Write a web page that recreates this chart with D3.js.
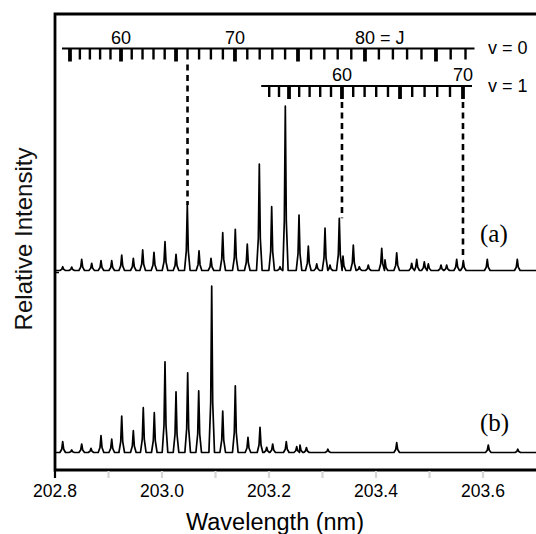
<!DOCTYPE html>
<html>
<head>
<meta charset="utf-8">
<script src="https://cdnjs.cloudflare.com/ajax/libs/d3/7.8.5/d3.min.js"></script>
<style>
  body { margin: 0; background: #fff; }
  svg { display: block; }
</style>
</head>
<body>
<div id="svg-container"></div>
<script>
const width = 536;
const height = 534;

// ********* DATA *********
// wavelength axis (nm)
const xDomain = [202.8, 203.7];
const majorTicks = [202.8, 203.0, 203.2, 203.4, 203.6];
const minorTicks = [202.9, 203.1, 203.3, 203.5];

// rotational comb, v = 0 : [J, wavelength]
const combV0 = [
  [55, 202.8280], [56, 202.8465], [57, 202.8652], [58, 202.8843], [59, 202.9037],
  [60, 202.9234], [61, 202.9434], [62, 202.9636], [63, 202.9841], [64, 203.0050],
  [65, 203.0262], [66, 203.0477], [67, 203.0693], [68, 203.0914], [69, 203.1138],
  [70, 203.1364], [71, 203.1594], [72, 203.1826], [73, 203.2062], [74, 203.2301],
  [75, 203.2542], [76, 203.2787], [77, 203.3034], [78, 203.3284], [79, 203.3538],
  [80, 203.3794], [81, 203.4054], [82, 203.4316], [83, 203.4581], [84, 203.4850],
  [85, 203.5121], [86, 203.5396], [87, 203.5673]
];
// rotational comb, v = 1 : [J, wavelength]
const combV1 = [
  [53, 203.2004], [54, 203.2187], [55, 203.2374], [56, 203.2564], [57, 203.2759],
  [58, 203.2957], [59, 203.3159], [60, 203.3364], [61, 203.3574], [62, 203.3787],
  [63, 203.4004], [64, 203.4224], [65, 203.4449], [66, 203.4677], [67, 203.4908],
  [68, 203.5144], [69, 203.5383], [70, 203.5626]
];
const labelsV0 = [[60, "60"], [70, "70"], [80, "80 = J"]];
const labelsV1 = [[60, "60"], [70, "70"]];
// dashed guides: [v, J, intensity reached in spectrum (a)]
const guides = [[0, 66, 0.398], [1, 60, 0.317], [1, 70, 0.094]];

// spectrum (a) peaks: [wavelength, relative intensity]
const peaksA = [
  [202.8144, 0.023], [202.8312, 0.021], [202.8499, 0.068], [202.8686, 0.044],
  [202.8860, 0.060], [202.9060, 0.060], [202.9247, 0.094], [202.9464, 0.074],
  [202.9639, 0.125], [202.9850, 0.111], [203.0056, 0.175], [203.0262, 0.098],
  [203.0473, 0.398], [203.0692, 0.119], [203.0916, 0.074], [203.1135, 0.230],
  [203.1370, 0.250], [203.1594, 0.161], [203.1819, 0.647], [203.2050, 0.388],
  [203.2206, 0.023], [203.2305, 1.000], [203.2561, 0.337], [203.2735, 0.149],
  [203.2892, 0.040], [203.3047, 0.257], [203.3140, 0.033], [203.3314, 0.317],
  [203.3383, 0.088], [203.3576, 0.155], [203.3688, 0.023], [203.3856, 0.033],
  [203.4107, 0.135], [203.4168, 0.064], [203.4387, 0.108], [203.4667, 0.044],
  [203.4761, 0.068], [203.4903, 0.053], [203.4978, 0.040], [203.5215, 0.033],
  [203.5321, 0.033], [203.5508, 0.068], [203.5632, 0.060], [203.6080, 0.068],
  [203.6641, 0.068]
];
// spectrum (b) peaks: [wavelength, relative intensity]
const peaksB = [
  [202.8144, 0.065], [202.8312, 0.015], [202.8499, 0.051], [202.8673, 0.025],
  [202.8860, 0.101], [202.9060, 0.081], [202.9247, 0.219], [202.9464, 0.131],
  [202.9650, 0.269], [202.9856, 0.239], [203.0056, 0.545], [203.0262, 0.365],
  [203.0480, 0.479], [203.0686, 0.371], [203.0929, 1.000], [203.1135, 0.249],
  [203.1370, 0.401], [203.1607, 0.091], [203.1832, 0.151], [203.1957, 0.031],
  [203.2069, 0.051], [203.2323, 0.065], [203.2518, 0.035], [203.2579, 0.045],
  [203.2700, 0.030], [203.3100, 0.020], [203.4387, 0.059], [203.6099, 0.045],
  [203.6650, 0.020]
];

// ********* SVG *********
var svg = d3.select("#svg-container").append("svg")
  .attr("width", width)
  .attr("height", height);

var x = d3.scaleLinear().domain(xDomain).range([55, 536.5]);
var yA = d3.scaleLinear().domain([0, 1]).range([270.5, 106]);
var yB = d3.scaleLinear().domain([0, 1]).range([452.5, 286]);

const frameTop = 14, frameBottom = 470, frameLeft = 55;
const sans = "'Liberation Sans', Arial, sans-serif";
const serif = "'Liberation Serif', 'Times New Roman', serif";

// ******** FRAME ********
svg.append("path")
  .attr("d", `M${width + 2},${frameTop}H${frameLeft}V${frameBottom}H${width + 2}`)
  .attr("fill", "none")
  .attr("stroke", "#000")
  .attr("stroke-width", 2.8);
// little tick between the two panels
svg.append("line")
  .attr("x1", frameLeft).attr("x2", frameLeft + 4)
  .attr("y1", yA(0) + 2).attr("y2", yA(0) + 2)
  .attr("stroke", "#000").attr("stroke-width", 1.5);

// ******** X AXIS ********
svg.selectAll(".xtick")
  .data(majorTicks.concat(minorTicks))
  .enter().append("line")
  .attr("class", "xtick")
  .attr("x1", d => x(d)).attr("x2", d => x(d))
  .attr("y1", frameBottom + 1).attr("y2", frameBottom + 8)
  .attr("stroke", (d, i) => i === 0 ? "#000" : "#d6d6d6")
  .attr("stroke-width", 2.2);

svg.selectAll(".xlabel")
  .data(majorTicks)
  .enter().append("text")
  .attr("class", "xlabel")
  .attr("x", d => x(d))
  .attr("y", 497)
  .attr("text-anchor", "middle")
  .style("font-family", sans)
  .style("font-size", "17.5px")
  .text(d => d.toFixed(1));

svg.append("text")
  .attr("x", 275).attr("y", 530)
  .attr("text-anchor", "middle")
  .style("font-family", sans)
  .style("font-size", "23.5px")
  .text("Wavelength (nm)");

svg.append("text")
  .attr("transform", "translate(32,239) rotate(-90)")
  .attr("text-anchor", "middle")
  .style("font-family", sans)
  .style("font-size", "24px")
  .style("fill", "#111")
  .text("Relative Intensity");

// ******** SPECTRA ********
function spectrumPoints(peaks) {
  var foot = 2.8 / 535, shoulder = 1.0 / 535;
  var pts = [[xDomain[0], 0]];
  peaks.slice().sort((a, b) => a[0] - b[0]).forEach(function(p) {
    [[p[0] - foot, 0], [p[0] - shoulder, p[1] * 0.3], [p[0], p[1]],
     [p[0] + shoulder, p[1] * 0.3], [p[0] + foot, 0]].forEach(function(c) {
      if (c[0] > pts[pts.length - 1][0]) pts.push(c);
    });
  });
  pts.push([xDomain[1], 0]);
  return pts;
}

[[peaksA, yA], [peaksB, yB]].forEach(function(s) {
  var line = d3.line().x(d => x(d[0])).y(d => s[1](d[1]));
  svg.append("path")
    .datum(spectrumPoints(s[0]))
    .attr("d", line)
    .attr("fill", "none")
    .attr("stroke", "#000")
    .attr("stroke-width", 1.7)
    .attr("stroke-linejoin", "round");
});

svg.append("text").attr("x", 480).attr("y", 242)
  .style("font-family", serif).style("font-size", "25px").text("(a)");
svg.append("text").attr("x", 480).attr("y", 431)
  .style("font-family", serif).style("font-size", "25px").text("(b)");

// ******** ROTATIONAL COMBS ********
var combs = [
  {lines: combV0, labels: labelsV0, y: 48.5, name: "v = 0"},
  {lines: combV1, labels: labelsV1, y: 86, name: "v = 1"}
];

combs.forEach(function(c) {
  var g = svg.append("g");
  var first = c.lines[0][1], last = c.lines[c.lines.length - 1][1];
  g.append("line")
    .attr("x1", x(first) - 8).attr("x2", x(last) + 9)
    .attr("y1", c.y).attr("y2", c.y)
    .attr("stroke", "#000").attr("stroke-width", 2.2);
  g.selectAll(".tick")
    .data(c.lines)
    .enter().append("line")
    .attr("x1", d => x(d[1])).attr("x2", d => x(d[1]))
    .attr("y1", c.y).attr("y2", d => c.y + (d[0] % 5 === 0 ? 13 : 11))
    .attr("stroke", "#000")
    .attr("stroke-width", d => d[0] % 5 === 0 ? 3.8 : 2.4);
  g.selectAll(".lab")
    .data(c.labels)
    .enter().append("text")
    .attr("x", function(d) {
      var wl = c.lines.find(l => l[0] === d[0])[1];
      return x(wl) - 10;
    })
    .attr("y", c.y - 5)
    .style("font-family", sans)
    .style("font-size", "18px")
    .text(d => d[1]);
  g.append("text")
    .attr("x", 488).attr("y", c.y + 5.5)
    .style("font-family", sans)
    .style("font-size", "18px")
    .text(c.name);
});

// ******** DASHED GUIDES ********
svg.selectAll(".guide")
  .data(guides)
  .enter().append("line")
  .attr("x1", function(d) {
    var lines = d[0] === 0 ? combV0 : combV1;
    return x(lines.find(l => l[0] === d[1])[1]);
  })
  .attr("x2", function(d) {
    var lines = d[0] === 0 ? combV0 : combV1;
    return x(lines.find(l => l[0] === d[1])[1]);
  })
  .attr("y1", d => combs[d[0]].y + 16)
  .attr("y2", d => yA(d[2]))
  .attr("stroke", "#000")
  .attr("stroke-width", 2.6)
  .attr("stroke-dasharray", "6,4.5");
</script>
</body>
</html>
